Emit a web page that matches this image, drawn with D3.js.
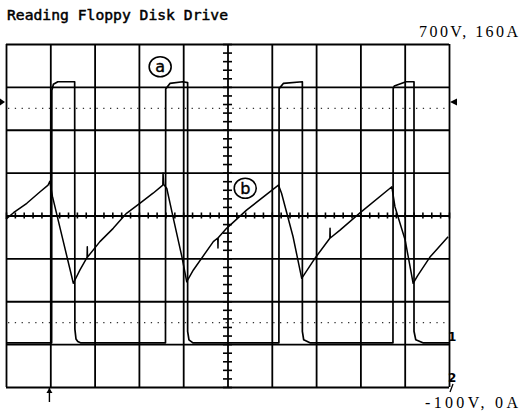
<!DOCTYPE html>
<html><head><meta charset="utf-8">
<script src="https://cdn.jsdelivr.net/npm/d3@7"></script>
<style>body{margin:0;background:#fff}svg{display:block}</style>
</head><body>
<svg id="c" width="522" height="411"></svg>
<script>
// ---------- data ----------
const title = "Reading Floppy Disk Drive";
const topScaleLabel = "700V, 160A";
const bottomScaleLabel = "-100V, 0A";
const voltDomain = [-100, 700];   // channel 1 (trace a), 100 V/div
const ampDomain = [0, 160];       // channel 2 (trace b), 20 A/div
const timeDomain = [0, 10];       // horizontal divisions
const timeDivs = [0, 1, 2, 3, 4, 5, 6, 7, 8, 9, 10];
const voltDivs = [-100, 0, 100, 200, 300, 400, 500, 600, 700];
const cursorVolts = [550, 50];
const triggerLevelV = 565;
const triggerTime = 0.98;
const channelMarks = ["1", "2"];
const traceLabels = ["a", "b"];

// trace a : voltage (V) vs time (div)
const traceA_t = [0, 1.03, 1.035, 1.07, 1.17, 1.55, 1.555, 1.58, 1.62, 1.68,
  3.6, 3.605, 3.7, 3.99, 4.1, 4.1, 4.13, 4.22,
  6.16, 6.165, 6.26, 6.69, 6.69, 6.72, 6.86,
  8.735, 8.74, 8.765, 9.03, 9.21, 9.21, 9.25, 9.41, 10];
const traceA_v = [3, 3, 592, 606, 612, 612, 35, 12, 6, 3,
  3, 595, 608, 612, 610, 30, 10, 3,
  3, 596, 608, 612, 30, 10, 3,
  3, 596, 602, 612, 612, 30, 10, 3, 3];

// trace b : current (A) vs time (div)
const traceB_t = [0, 0.17, 0.47, 0.77, 0.95, 0.99, 1.0, 1.05, 1.52,
  1.67, 1.83, 1.835, 1.84, 2.12, 2.42, 2.72, 3.02, 3.32, 3.54, 3.545, 3.56, 3.63, 3.77, 3.97, 4.08,
  4.23, 4.68, 4.78, 4.785, 4.79, 4.98, 5.43, 6.15, 6.22, 6.48, 6.675,
  6.98, 7.31, 7.315, 7.32, 7.54, 7.99, 8.71, 8.78, 9.01, 9.19,
  9.3, 9.57, 9.98];
const traceB_i = [78.3, 81.3, 85.7, 91.1, 94.2, 96.0, 94.5, 88.8, 48.4,
  54.6, 60.5, 65.4, 60.6, 67.8, 74.0, 81.0, 85.7, 90.4, 94.2, 99.8, 94.5, 92.6, 79.4, 60.8, 49.1,
  54.6, 67.8, 69.5, 64.8, 69.6, 74.0, 82.5, 94.2, 90.4, 70.1, 50.7,
  60.2, 69.4, 74.1, 69.5, 73.2, 81.2, 93.4, 84.1, 68.6, 48.4,
  52.2, 60.6, 70.1];

// ---------- drawing ----------
const svg = d3.select("#c");
const L = 6, R = 449, T = 44, B = 387;
const x = d3.scaleLinear().domain(timeDomain).range([L, R]);
const yV = d3.scaleLinear().domain(voltDomain).range([B, T]);
const yA = d3.scaleLinear().domain(ampDomain).range([B, T]);

// title and scale labels
svg.append("text").attr("x", 7).attr("y", 20)
  .attr("font-family", "DejaVu Sans Mono").attr("font-size", 13.5)
  .attr("stroke", "#000").attr("stroke-width", 0.45)
  .attr("textLength", 221).attr("lengthAdjust", "spacingAndGlyphs")
  .text(title);
svg.append("text").attr("x", 419).attr("y", 37)
  .attr("font-family", "Liberation Serif").attr("font-size", 16)
  .attr("textLength", 99).attr("lengthAdjust", "spacing")
  .text(topScaleLabel);
svg.append("text").attr("x", 425).attr("y", 408)
  .attr("font-family", "Liberation Serif").attr("font-size", 16)
  .attr("textLength", 93).attr("lengthAdjust", "spacing")
  .text(bottomScaleLabel);

// grid
const gridV = svg.append("g").attr("transform", `translate(0,${B})`)
  .call(d3.axisBottom(x).tickValues(timeDivs).tickSize(-(B - T)).tickFormat(""));
const gridH = svg.append("g").attr("transform", `translate(${L},0)`)
  .call(d3.axisLeft(yV).tickValues(voltDivs).tickSize(-(R - L)).tickFormat(""));
[gridV, gridH].forEach(g => {
  g.select(".domain").remove();
  g.selectAll("line").attr("stroke", "#000").attr("stroke-width", 1.8);
});

// centre minor ticks
const xc = x(5), yc = yV(300);
const minorT = d3.range(0, 10.001, 0.2);
const minorV = d3.range(-100, 700.1, 20);
[d3.axisBottom, d3.axisTop].forEach(ax => {
  const g = svg.append("g").attr("transform", `translate(0,${yc})`)
    .call(ax(x).tickValues(minorT).tickSize(3).tickFormat(""));
  g.select(".domain").remove();
  g.selectAll("line").attr("stroke", "#000").attr("stroke-width", 1.6);
});
[d3.axisLeft, d3.axisRight].forEach(ax => {
  const g = svg.append("g").attr("transform", `translate(${xc},0)`)
    .call(ax(yV).tickValues(minorV).tickSize(4.5).tickFormat(""));
  g.select(".domain").remove();
  g.selectAll("line").attr("stroke", "#000").attr("stroke-width", 1.6);
});

// cursors (dotted)
svg.selectAll("line.cursor").data(cursorVolts).enter().append("line")
  .attr("class", "cursor")
  .attr("x1", L + 2).attr("x2", R - 2)
  .attr("y1", d => yV(d)).attr("y2", d => yV(d))
  .attr("stroke", "#333").attr("stroke-width", 1.3)
  .attr("stroke-dasharray", "1.3,5.5");

// traces
const dataA = traceA_t.map((t, i) => ({t, v: traceA_v[i]}));
const dataB = traceB_t.map((t, i) => ({t, v: traceB_i[i]}));
svg.append("path").datum(dataA)
  .attr("d", d3.line().x(d => x(d.t)).y(d => yV(d.v)))
  .attr("fill", "none").attr("stroke", "#000").attr("stroke-width", 1.7)
  .attr("stroke-linejoin", "round");
svg.append("path").datum(dataB)
  .attr("d", d3.line().x(d => x(d.t)).y(d => yA(d.v)))
  .attr("fill", "none").attr("stroke", "#000").attr("stroke-width", 1.5)
  .attr("stroke-linejoin", "round");

// trace labels (circled)
const labelPos = [{cx: x(3.48), cy: yV(647)}, {cx: x(5.4), cy: yA(92.7)}];
traceLabels.forEach((lab, i) => {
  const p = labelPos[i];
  svg.append("ellipse").attr("cx", p.cx).attr("cy", p.cy).attr("rx", 11).attr("ry", 10)
    .attr("fill", "#fff").attr("stroke", "#000").attr("stroke-width", 1.6);
  svg.append("text").attr("x", p.cx).attr("y", p.cy + 5.5)
    .attr("text-anchor", "middle").attr("font-family", "DejaVu Sans").attr("font-size", 16)
    .attr("stroke", "#000").attr("stroke-width", 0.4)
    .text(lab);
});

// trigger level markers
const ty = yV(triggerLevelV);
svg.append("path").attr("d", `M0,${ty - 3.5} L5,${ty} L0,${ty + 3.5} Z`).attr("fill", "#000");
svg.append("path").attr("d", `M${R + 1},${ty} L${R + 8},${ty - 3.5} L${R + 8},${ty + 3.5} Z`).attr("fill", "#000");

// trigger time marker
const tx = x(triggerTime);
svg.append("line").attr("x1", tx).attr("x2", tx).attr("y1", B + 1).attr("y2", B + 15)
  .attr("stroke", "#000").attr("stroke-width", 1.4);
svg.append("path").attr("d", `M${tx},${B + 1} L${tx - 3},${B + 6} L${tx + 3},${B + 6} Z`).attr("fill", "#000");

// channel ground markers
svg.append("text").attr("x", R - 1).attr("y", yV(0) - 3)
  .attr("font-family", "DejaVu Sans").attr("font-weight", "bold").attr("font-size", 12)
  .text(channelMarks[0]);
svg.append("text").attr("x", R - 1).attr("y", yA(0) - 5)
  .attr("font-family", "DejaVu Sans").attr("font-weight", "bold").attr("font-size", 12)
  .text(channelMarks[1]);
svg.append("path").attr("d", `M${R + 4},${B - 3} L${R + 1},${B + 5}`)
  .attr("stroke", "#000").attr("stroke-width", 1.3);
</script>
</body></html>
